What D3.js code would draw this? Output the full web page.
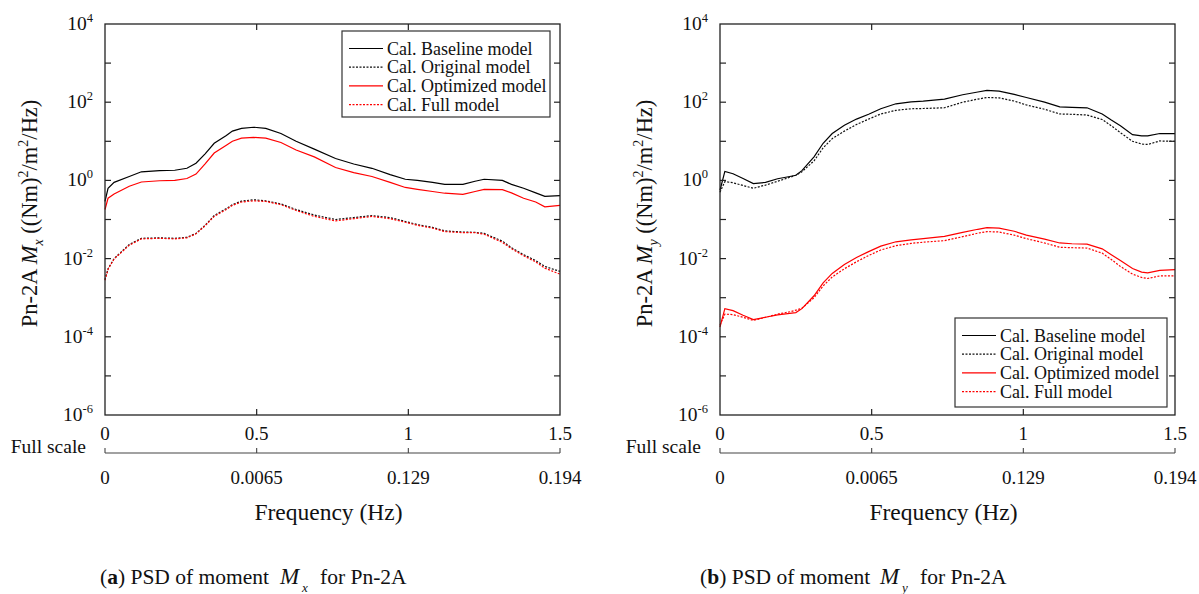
<!DOCTYPE html>
<meta charset="utf-8">
<head>
<title>PSD of moment Mx / My for Pn-2A</title>
<script src="https://cdn.jsdelivr.net/npm/d3@7"></script>
<style>
    body { margin: 0; background: #fff; }
    text { font-family: 'Liberation Serif', 'Times New Roman', serif; fill: #111; }
</style>
</head>
<body>
<div id="chart"></div>
<script>
// ---- data ----
// panel (a): moment Mx
var freqA = [0, 0.01, 0.03, 0.08, 0.12, 0.18, 0.23, 0.27, 0.30, 0.33, 0.36, 0.40, 0.42, 0.45, 0.49, 0.53, 0.58, 0.63,
             0.69, 0.76, 0.82, 0.88, 0.94, 0.99, 1.03, 1.08, 1.12, 1.18, 1.22, 1.25, 1.31, 1.34, 1.38, 1.42, 1.45, 1.5];
var baselineA = [0.29, 0.63, 0.89, 1.26, 1.66, 1.78, 1.82, 2.04, 2.75, 4.79, 8.9, 14.1, 18.2, 21.4, 22.9, 21.4, 15.8, 10,
                 6.3, 3.63, 2.63, 2.04, 1.41, 1.07, 1.0, 0.89, 0.79, 0.79, 0.95, 1.07, 1.0, 0.79, 0.63, 0.48, 0.39, 0.41];
var originalA = [0.0029, 0.0055, 0.01, 0.023, 0.033, 0.034, 0.033, 0.035, 0.044, 0.071, 0.126, 0.19, 0.24, 0.295, 0.32, 0.30, 0.25, 0.18,
                 0.13, 0.10, 0.112, 0.126, 0.112, 0.089, 0.074, 0.063, 0.051, 0.048, 0.047, 0.044, 0.028, 0.019, 0.0126, 0.0089, 0.0063, 0.0047];
var optimizedA = [0.18, 0.35, 0.45, 0.71, 0.91, 0.98, 1.0, 1.12, 1.45, 2.63, 5.0, 7.9, 10, 12.0, 12.6, 12.0, 9.3, 6.0,
                  4.0, 2.14, 1.58, 1.26, 0.89, 0.66, 0.59, 0.52, 0.47, 0.44, 0.52, 0.59, 0.58, 0.48, 0.35, 0.28, 0.21, 0.23];
var fullA = [0.0028, 0.0053, 0.0098, 0.022, 0.032, 0.033, 0.032, 0.034, 0.043, 0.069, 0.12, 0.18, 0.23, 0.28, 0.30, 0.29, 0.24, 0.17,
             0.12, 0.092, 0.105, 0.12, 0.105, 0.085, 0.071, 0.06, 0.049, 0.046, 0.046, 0.042, 0.026, 0.018, 0.0118, 0.0082, 0.0057, 0.0040];

// panel (b): moment My
var freqB = [0, 0.016, 0.043, 0.076, 0.11, 0.15, 0.19, 0.23, 0.25, 0.27, 0.31, 0.34, 0.37, 0.41, 0.45, 0.49, 0.53, 0.58, 0.63,
             0.67, 0.74, 0.80, 0.85, 0.88, 0.92, 0.97, 1.01, 1.07, 1.12, 1.16, 1.21, 1.26, 1.29, 1.32, 1.36, 1.39, 1.41, 1.45, 1.5];
var baselineB = [0.56, 1.7, 1.48, 1.12, 0.83, 0.89, 1.1, 1.26, 1.35, 1.78, 4.0, 8.9, 15.8, 25.7, 37, 49, 68, 91, 102,
                 107, 120, 155, 182, 200, 191, 158, 132, 100, 76, 74, 72, 50, 35, 25, 14.8, 13.8, 13.8, 15.8, 15.8];
var originalB = [0.5, 0.93, 0.87, 0.74, 0.63, 0.76, 0.95, 1.2, 1.35, 1.66, 3.16, 6.8, 11.7, 18.2, 26.9, 37, 50, 62, 68,
                 69, 72, 100, 120, 132, 129, 107, 85, 66, 50, 49, 47, 36, 25, 16.6, 10, 8.5, 8.3, 10.2, 10];
var optimizedB = [0.000178, 0.000525, 0.000468, 0.000355, 0.000275, 0.000316, 0.000363, 0.000398, 0.000417, 0.000525, 0.00112, 0.0024,
                  0.00417, 0.00708, 0.0107, 0.0151, 0.0209, 0.0269, 0.0302, 0.0324, 0.0372, 0.0468, 0.0562, 0.0617, 0.0603, 0.0501,
                  0.0398, 0.0316, 0.0251, 0.024, 0.0234, 0.0178, 0.0126, 0.0089, 0.0056, 0.0045, 0.0043, 0.005, 0.0052];
var fullB = [0.0002, 0.00038, 0.00037, 0.000316, 0.000263, 0.000316, 0.00038, 0.000437, 0.000479, 0.000537, 0.001, 0.002,
             0.00339, 0.0055, 0.0083, 0.012, 0.0166, 0.0214, 0.0245, 0.0263, 0.0288, 0.0363, 0.0447, 0.049, 0.0479, 0.0398,
             0.0324, 0.0251, 0.0195, 0.019, 0.0186, 0.0138, 0.0095, 0.0063, 0.004, 0.0033, 0.0031, 0.0036, 0.0036];

var seriesNames = ["Cal. Baseline model", "Cal. Original model", "Cal. Optimized model", "Cal. Full model"];
var yTickExp = [4, 2, 0, -2, -4, -6];
var xTicks = [0, 0.5, 1, 1.5];
var fullScaleLabels = ["0", "0.0065", "0.129", "0.194"];

// ---- layout ----
var w = 1199, h = 594;
var plotTop = 24, plotBottom = 415, pw = 455;

var svg = d3.select("#chart").append("svg")
    .attr("width", w)
    .attr("height", h);
svg.append("rect").attr("width", w).attr("height", h).attr("fill", "#fff");

var styles = [
    {color: "#000", dash: null},
    {color: "#111", dash: "2,1.5"},
    {color: "#ff0000", dash: null},
    {color: "#ff0000", dash: "2,1.5"}
];

function drawPanel(left, freq, series, sub, legendBox, letter, capX) {
    var x = d3.scaleLinear().domain([0, 1.5]).range([left, left + pw]);
    var y = d3.scaleLog().domain([1e-6, 1e4]).range([plotBottom, plotTop]);
    var g = svg.append("g");

    // curves
    var line = d3.line()
        .x(function(d) { return x(d[0]); })
        .y(function(d) { return y(d[1]); });
    series.forEach(function(vals, i) {
        var pts = freq.map(function(f, k) { return [f, vals[k]]; });
        g.append("path")
            .datum(pts)
            .attr("d", line)
            .attr("fill", "none")
            .attr("stroke", styles[i].color)
            .attr("stroke-width", 1.2)
            .attr("stroke-dasharray", styles[i].dash);
    });

    // frame + inward ticks
    g.append("rect")
        .attr("x", left).attr("y", plotTop)
        .attr("width", pw).attr("height", plotBottom - plotTop)
        .attr("fill", "none").attr("stroke", "#222").attr("stroke-width", 1.3);

    var decades = d3.range(-5, 4);
    decades.forEach(function(e) {
        var yy = y(Math.pow(10, e));
        g.append("line").attr("x1", left).attr("x2", left + 6).attr("y1", yy).attr("y2", yy)
            .attr("stroke", "#222").attr("stroke-width", 1.2);
        g.append("line").attr("x1", left + pw - 6).attr("x2", left + pw).attr("y1", yy).attr("y2", yy)
            .attr("stroke", "#222").attr("stroke-width", 1.2);
    });
    [0.5, 1].forEach(function(v) {
        g.append("line").attr("x1", x(v)).attr("x2", x(v)).attr("y1", plotTop).attr("y2", plotTop + 6)
            .attr("stroke", "#222").attr("stroke-width", 1.2);
        g.append("line").attr("x1", x(v)).attr("x2", x(v)).attr("y1", plotBottom - 6).attr("y2", plotBottom)
            .attr("stroke", "#222").attr("stroke-width", 1.2);
    });

    // y tick labels 10^n
    yTickExp.forEach(function(e) {
        var t = g.append("text")
            .attr("x", left - 12)
            .attr("y", y(Math.pow(10, e)) + 6)
            .attr("text-anchor", "end")
            .style("font-size", "19.5px");
        t.append("tspan").text("10");
        t.append("tspan").attr("dy", -8).style("font-size", "12.5px").text(e);
    });

    // x tick labels
    xTicks.forEach(function(v) {
        g.append("text")
            .attr("x", x(v)).attr("y", 440)
            .attr("text-anchor", "middle")
            .style("font-size", "19px")
            .text(v);
    });

    // full scale axis
    g.append("line").attr("x1", left).attr("x2", left + pw).attr("y1", 453).attr("y2", 453)
        .attr("stroke", "#444").attr("stroke-width", 1.1);
    xTicks.forEach(function(v, i) {
        g.append("line").attr("x1", x(v)).attr("x2", x(v)).attr("y1", 448).attr("y2", 453)
            .attr("stroke", "#444").attr("stroke-width", 1.1);
        g.append("text")
            .attr("x", x(v)).attr("y", 484)
            .attr("text-anchor", "middle")
            .style("font-size", "19px")
            .text(fullScaleLabels[i]);
    });
    g.append("text")
        .attr("x", left - 19).attr("y", 453)
        .attr("text-anchor", "end")
        .style("font-size", "19.5px")
        .text("Full scale");

    g.append("text")
        .attr("x", left + pw / 2 - 4).attr("y", 520)
        .attr("text-anchor", "middle")
        .style("font-size", "23.5px")
        .text("Frequency (Hz)");

    // y title
    var yt = g.append("text")
        .attr("transform", "translate(" + (left - 68) + "," + ((plotTop + plotBottom) / 2 - 6) + ") rotate(-90)")
        .attr("text-anchor", "middle")
        .style("font-size", "22.5px");
    yt.append("tspan").text("Pn-2A ");
    yt.append("tspan").style("font-style", "italic").text("M");
    yt.append("tspan").attr("dy", 6).style("font-style", "italic").style("font-size", "14px").text(sub);
    yt.append("tspan").attr("dy", -6).text(" ((Nm)");
    yt.append("tspan").attr("dy", -9).style("font-size", "14px").text("2");
    yt.append("tspan").attr("dy", 9).text("/m");
    yt.append("tspan").attr("dy", -9).style("font-size", "14px").text("2");
    yt.append("tspan").attr("dy", 9).text("/Hz)");

    // legend
    var lg = g.append("g").attr("transform", "translate(" + legendBox[0] + "," + legendBox[1] + ")");
    lg.append("rect")
        .attr("width", legendBox[2]).attr("height", legendBox[3])
        .attr("fill", "#fff").attr("stroke", "#333").attr("stroke-width", 1.2);
    seriesNames.forEach(function(name, i) {
        var cy = 17.5 + i * 18.7;
        lg.append("line")
            .attr("x1", 7).attr("x2", 41).attr("y1", cy).attr("y2", cy)
            .attr("stroke", styles[i].color).attr("stroke-width", 1.2)
            .attr("stroke-dasharray", styles[i].dash);
        lg.append("text")
            .attr("x", 45).attr("y", cy + 6)
            .style("font-size", "18px")
            .text(name);
    });

    // caption
    var cap = svg.append("text")
        .attr("x", capX).attr("y", 584)
        .style("font-size", "21.5px");
    cap.append("tspan").text("(");
    cap.append("tspan").style("font-weight", "bold").text(letter);
    cap.append("tspan").text(") PSD of moment ");
    cap.append("tspan").attr("x", capX + 180).style("font-style", "italic").style("font-size", "23px").text("M");
    cap.append("tspan").attr("dy", 8).attr("x", capX + 202).style("font-style", "italic").style("font-size", "13px").text(sub);
    cap.append("tspan").attr("dy", -8).attr("x", capX + 220).text("for Pn-2A");
}

drawPanel(105, freqA, [baselineA, originalA, optimizedA, fullA], "x", [342, 31, 208, 86], "a", 100);
drawPanel(720, freqB, [baselineB, originalB, optimizedB, fullB], "y", [955, 318, 212, 89], "b", 700);
</script>
</body>
</html>
